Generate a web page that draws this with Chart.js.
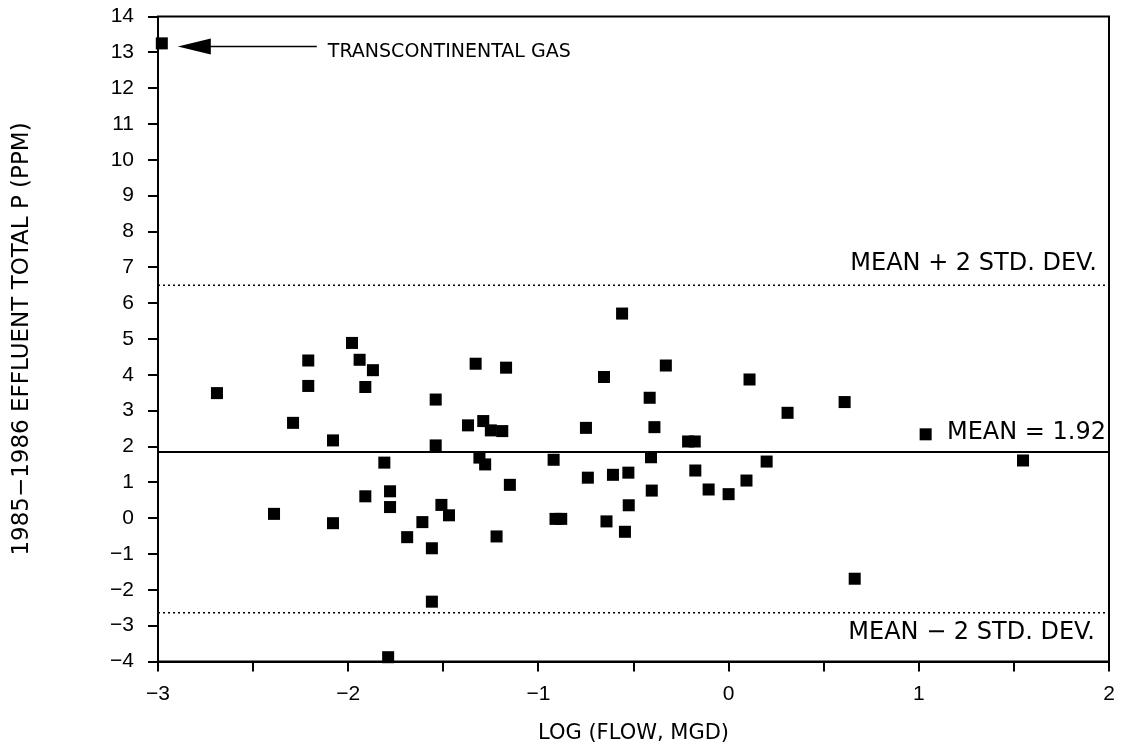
<!DOCTYPE html>
<html>
<head>
<meta charset="utf-8">
<script src="https://cdn.jsdelivr.net/npm/chart.js@4"></script>
<style>
  html, body { margin: 0; padding: 0; background: #fff; }
  #wrap { width: 1123px; height: 755px; }
</style>
</head>
<body>
<div id="wrap"><canvas id="myChart" width="1123" height="755"></canvas></div>
<script>
// log(flow, MGD) and 1985-1986 effluent total P (ppm)
const flowLog = [
    -2.69, -2.29, -2.21, -2.21, -2.08, -1.98, -1.94, -1.87, -1.91, -1.54,
    -1.54, -1.81, -1.78, -1.91, -1.33, -1.17, -1.37, -1.29, -1.25, -1.19,
    -1.31, -1.28, -1.15, -0.92, -0.75, -0.74, -2.39, -2.08, -1.78, -1.69,
    -1.61, -1.56, -1.51, -1.47, -1.56, -1.79, -1.22, -0.91, -0.88, -0.56,
    -0.655, -0.33, -0.415, 0.11, 0.31, 0.61, -0.39, -0.213, -0.178, -0.408,
    0.2, -0.608, -0.527, -0.175, -0.404, -0.105, 0.0, 0.094, -0.525, -0.642,
    -0.545, 0.663, 1.036, 1.548
];
const totalP = [
    3.49, 2.66, 4.40, 3.69, 2.17, 4.89, 4.42, 4.13, 3.66, 3.31,
    2.03, 1.55, 0.75, 0.61, 4.31, 4.20, 2.59, 2.71, 2.45, 2.43,
    1.69, 1.50, 0.93, 1.63, 2.52, 1.13, 0.12, -0.14, 0.31, -0.53,
    -0.11, -0.84, 0.37, 0.08, -2.33, -3.88, -0.51, -0.02, -0.02, 5.71,
    3.94, 4.26, 3.36, 3.87, 2.94, 3.24, 2.54, 2.14, 2.14, 1.70,
    1.58, 1.21, 1.27, 1.33, 0.77, 0.80, 0.67, 1.05, 0.36, -0.09,
    -0.38, -1.69, 2.34, 1.61
];

// the outlier called out with an arrow
const outlierName = "TRANSCONTINENTAL GAS";
const outlierPoint = { x: -2.98, y: 13.25 };

// reference lines
const meanLine = 1.85;
const upperLine = 6.5;
const lowerLine = -2.64;
const meanLabel = "MEAN = 1.92";
const upperLabel = "MEAN + 2 STD. DEV.";
const lowerLabel = "MEAN \u2212 2 STD. DEV.";

const xMin = -3, xMax = 2, xStep = 0.5;
const yMin = -4, yMax = 14, yStep = 1;

const xTitle = "LOG (FLOW, MGD)";
const yTitle = "1985\u22121986 EFFLUENT TOTAL P (PPM)";

const points = flowLog.map((x, i) => ({ x: x, y: totalP[i] }));
points.push(outlierPoint);

function hLine(v) {
    return [{ x: xMin, y: v }, { x: xMax, y: v }];
}

function minus(v) {
    return String(v).replace("-", "\u2212");
}

// labels, arrow and the frame around the plot
const notes = {
    id: "notes",
    afterDatasetsDraw(chart) {
        const c = chart.ctx;
        const xs = chart.scales.x, ys = chart.scales.y;
        const area = chart.chartArea;
        c.save();
        c.strokeStyle = "#000";
        c.lineWidth = 2;
        c.strokeRect(area.left, area.top, area.right - area.left, area.bottom - area.top);

        c.fillStyle = "#000";
        c.textBaseline = "alphabetic";
        c.font = "24px 'DejaVu Sans'";
        c.textAlign = "right";
        const xr = xs.getPixelForValue(xMax);
        c.fillText(upperLabel, xr - 12, ys.getPixelForValue(upperLine) - 15);
        c.fillText(lowerLabel, xr - 14, ys.getPixelForValue(lowerLine) + 26);
        c.fillText(meanLabel, xr - 3, ys.getPixelForValue(meanLine) - 13);

        // arrow to the outlier
        const px = xs.getPixelForValue(outlierPoint.x);
        const py = ys.getPixelForValue(outlierPoint.y) + 3;
        const tip = px + 16;
        c.beginPath();
        c.moveTo(tip, py);
        c.lineTo(tip + 33, py - 8);
        c.lineTo(tip + 33, py + 8);
        c.closePath();
        c.fill();
        c.lineWidth = 1.5;
        c.beginPath();
        c.moveTo(tip + 30, py);
        c.lineTo(tip + 139, py);
        c.stroke();
        c.font = "19px 'DejaVu Sans'";
        c.textAlign = "left";
        c.fillText(outlierName, tip + 150, py + 11);
        c.restore();
    }
};

const ctx = document.getElementById("myChart").getContext("2d");

new Chart(ctx, {
    type: "scatter",
    data: {
        datasets: [
            {
                label: "plants",
                data: points,
                pointStyle: "rect",
                pointRadius: 8.5,
                pointHoverRadius: 8.5,
                backgroundColor: "#000",
                borderColor: "#000",
                borderWidth: 0,
                clip: false
            },
            {
                label: "mean",
                data: hLine(meanLine),
                showLine: true,
                pointRadius: 0,
                borderColor: "#000",
                borderWidth: 2
            },
            {
                label: "mean + 2 sd",
                data: hLine(upperLine),
                showLine: true,
                pointRadius: 0,
                borderColor: "#000",
                borderWidth: 1.5,
                borderDash: [2, 3]
            },
            {
                label: "mean - 2 sd",
                data: hLine(lowerLine),
                showLine: true,
                pointRadius: 0,
                borderColor: "#000",
                borderWidth: 1.5,
                borderDash: [2, 3]
            }
        ]
    },
    options: {
        responsive: false,
        animation: false,
        layout: { padding: { top: 16.5, right: 14, left: 0, bottom: 0 } },
        plugins: {
            legend: { display: false },
            tooltip: { enabled: false }
        },
        scales: {
            x: {
                type: "linear",
                min: xMin,
                max: xMax,
                afterFit: (scale) => {
                    scale.height = 93.5;
                    scale.paddingLeft = 0;
                    scale.paddingRight = 0;
                },
                ticks: {
                    stepSize: xStep,
                    color: "#000",
                    padding: 10,
                    maxRotation: 0,
                    autoSkip: false,
                    font: { family: "'Liberation Sans'", size: 21 },
                    callback: (v) => Number.isInteger(v) ? minus(v) : ""
                },
                grid: {
                    drawOnChartArea: false,
                    tickLength: 10,
                    color: "#000",
                    lineWidth: 2
                },
                border: { color: "#000", width: 2 },
                title: {
                    display: true,
                    text: xTitle,
                    color: "#000",
                    font: { family: "'DejaVu Sans'", size: 21 },
                    padding: { top: 0, bottom: 9 }
                }
            },
            y: {
                type: "linear",
                min: yMin,
                max: yMax,
                afterFit: (scale) => {
                    scale.width = 158;
                    scale.paddingTop = 0;
                    scale.paddingBottom = 0;
                },
                ticks: {
                    stepSize: yStep,
                    color: "#000",
                    padding: 14,
                    autoSkip: false,
                    font: { family: "'Liberation Sans'", size: 21 },
                    callback: (v) => minus(v)
                },
                grid: {
                    drawOnChartArea: false,
                    tickLength: 10,
                    color: "#000",
                    lineWidth: 2
                },
                border: { color: "#000", width: 2 },
                title: {
                    display: true,
                    text: yTitle,
                    color: "#000",
                    font: { family: "'DejaVu Sans'", size: 23 },
                    padding: { top: 8, bottom: 0 }
                }
            }
        }
    },
    plugins: [notes]
});
</script>
</body>
</html>
